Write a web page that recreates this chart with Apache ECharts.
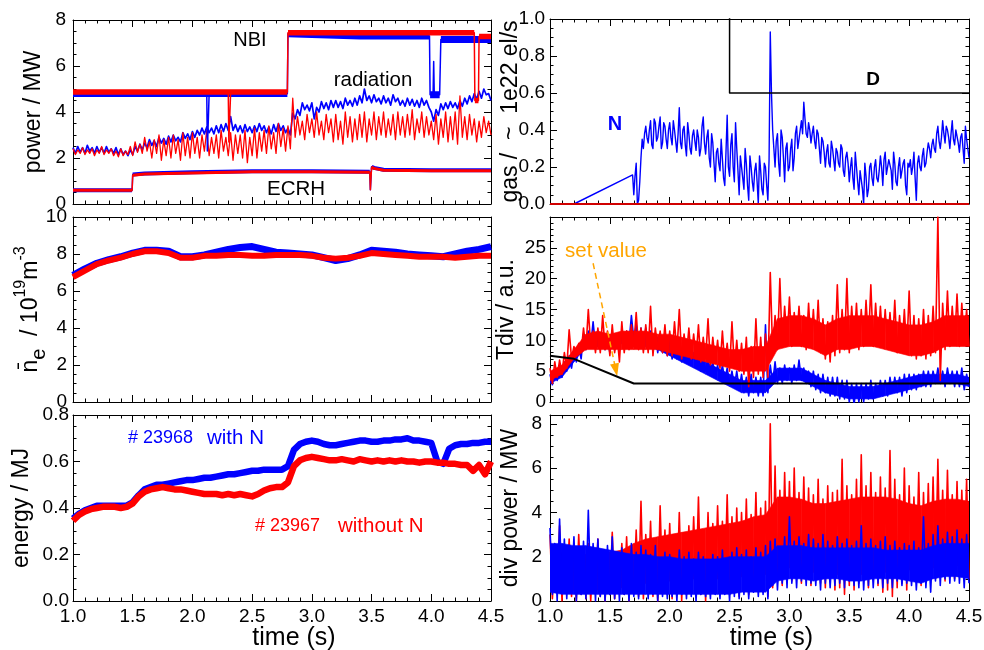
<!DOCTYPE html>
<html><head><meta charset="utf-8">
<script src="https://cdn.jsdelivr.net/npm/echarts@6/dist/echarts.min.js"></script>
<style>html,body{margin:0;padding:0;background:#fff}#c{width:984px;height:650px}</style>
</head><body><div id="c"></div>
<script>
// ---------- DATA ----------
const xTicks = [1.0, 1.5, 2.0, 2.5, 3.0, 3.5, 4.0, 4.5];
// noisy traces: hi value at t = 1.00 + 0.04k, lo value at t = 1.02 + 0.04k
const ZIG_T0 = 1.0, ZIG_DT = 0.02;
// dense cores of the noisy traces, every 0.1 s from 1.0
const CORE_T0 = 1.0, CORE_DT = 0.1;

// power panel: full paths (thin) and thick noisy plateaus (null = break)
const nbiBlueT = [1.0, 2.12, 2.125, 2.135, 2.14, 2.795, 2.80, 3.4, 3.985, 3.99, 4.015, 4.02, 4.025, 4.07, 4.08, 4.5];
const nbiBlueV = [4.8, 4.8, 2.3, 2.3, 4.8, 4.8, 7.4, 7.3, 7.3, 4.75, 4.75, 6.2, 4.75, 4.75, 7.15, 7.15];
const nbiBlueThickT = [1.0, 2.795, null, 2.80, 3.4, 3.985, null, 3.99, 4.07, null, 4.08, 4.5];
const nbiBlueThickV = [4.8, 4.8, null, 7.4, 7.3, 7.3, null, 4.75, 4.75, null, 7.15, 7.15];
const nbiRedT = [1.0, 2.30, 2.305, 2.315, 2.32, 2.795, 2.80, 4.36, 4.365, 4.395, 4.40, 4.5];
const nbiRedV = [4.87, 4.87, 2.7, 2.7, 4.87, 4.87, 7.45, 7.45, 4.5, 4.5, 7.28, 7.28];
const nbiRedThickT = [1.0, 2.795, null, 2.80, 4.36, null, 4.365, 4.395, null, 4.40, 4.5];
const nbiRedThickV = [4.87, 4.87, null, 7.45, 7.45, null, 4.5, 4.5, null, 7.28, 7.28];
const ecrhT = [1.0, 1.495, 1.50, 1.6, 2.0, 2.5, 3.0, 3.485, 3.49, 3.50, 3.52, 3.6, 4.0, 4.5];
const ecrhRedV = [0.6, 0.6, 1.25, 1.3, 1.35, 1.4, 1.4, 1.38, 0.62, 1.6, 1.55, 1.47, 1.45, 1.45];
const ecrhBlueV = [0.6, 0.6, 1.28, 1.33, 1.38, 1.42, 1.42, 1.4, 0.62, 1.62, 1.57, 1.49, 1.47, 1.47];
const ecrhThickT = [1.0, 1.495, null, 1.50, 1.6, 2.0, 2.5, 3.0, 3.485, null, 3.50, 3.52, 3.6, 4.0, 4.5];
const ecrhRedThickV = [0.6, 0.6, null, 1.25, 1.3, 1.35, 1.4, 1.4, 1.38, null, 1.6, 1.55, 1.47, 1.45, 1.45];
const ecrhBlueThickV = [0.6, 0.6, null, 1.28, 1.33, 1.38, 1.42, 1.42, 1.4, null, 1.62, 1.57, 1.49, 1.47, 1.47];
const radRedHi = [2.4,2.35,2.45,2.35,2.4, 2.35,2.5,2.35,2.4,2.3, 2.4,2.3,2.5,2.7,2.6, 2.9,2.7,2.8,3.0,2.8, 2.9,3.0,2.8,3.1,2.9, 3.1,2.9,3.0,3.2,2.9, 3.0,3.2,2.9,3.1,3.0, 3.0,3.2,2.9,3.3,3.1, 3.2,3.4,3.1,3.5,3.3, 3.4,4.6,3.8,3.6,3.9, 3.7,4.0,3.6,3.9,3.7, 3.9,3.6,4.0,3.8,3.7, 3.9,4.0,3.7,4.0,3.8, 4.0,3.7,3.9,4.0,3.8, 3.9,4.1,3.7,4.0,3.8, 3.6,3.9,3.7,4.0,3.8, 4.0,4.7,3.8,3.9,3.7, 3.6,3.8,3.6];
const radRedLo = [2.15,2.2,2.15,2.2,2.1, 2.2,2.15,2.2,2.1,2.05, 2.1,2.15,2.1,2.25,2.2, 2.3,2.0,2.2,1.9,2.1, 2.0,2.2,1.9,2.1,2.0, 2.2,2.0,2.3,2.1,2.2, 2.0,2.3,2.1,1.9,2.2, 2.0,1.8,2.1,2.0,2.3, 2.2,2.4,2.2,2.5,2.3, 2.4,2.9,3.0,2.8,3.1, 2.9,3.0,2.8,3.1,2.7, 2.8,2.6,2.9,2.7,2.8, 2.9,2.7,3.0,2.8,3.0, 2.9,3.0,2.8,3.0,2.9, 3.0,2.8,3.1,2.9,3.0, 2.8,2.6,2.9,2.7,2.8, 2.6,2.9,2.8,3.0,2.7, 2.9,3.1,3.0];
const radBlueHi = [2.45,2.5,2.45,2.55,2.45, 2.5,2.45,2.5,2.4,2.45, 2.4,2.3,2.35,2.5,2.6, 2.65,2.8,2.75,2.9,2.85, 2.95,3.0,2.9,3.1,3.05, 3.15,3.2,3.3,3.35,3.3, 3.4,3.45,3.5,3.8,3.45, 3.4,3.45,3.35,3.4,3.5, 3.4,3.35,3.45,3.5,3.4, 3.3,3.95,4.1,4.4,4.3, 4.4,4.2,4.45,4.4,4.5, 4.5,4.45,4.6,4.5,4.6, 4.7,5.0,4.7,4.75,4.6, 4.7,4.6,4.75,4.6,4.5, 4.6,4.55,4.5,4.6,4.5, 4.0,4.1,4.35,4.4,4.45, 4.4,4.5,4.6,4.7,4.8, 4.9,5.0,4.8];
const radBlueLo = [2.2,2.25,2.2,2.3,2.2, 2.25,2.2,2.25,2.2,2.15, 2.15,2.1,2.15,2.3,2.35, 2.45,2.55,2.5,2.65,2.6, 2.7,2.75,2.7,2.85,2.8, 2.9,3.0,3.05,3.1,3.05, 3.1,3.15,3.2,3.2,3.15, 3.1,3.15,3.1,3.15,3.2, 3.1,3.05,3.15,3.2,3.1, 3.0,3.7,3.85,4.1,4.05, 3.7,4.0,4.15,4.1,4.2, 4.2,4.15,4.3,4.25,4.3, 4.4,4.5,4.4,4.45,4.35, 4.4,4.3,4.45,4.3,4.25, 4.3,4.25,4.2,4.3,4.2, 3.6,3.85,4.1,4.15,4.2, 4.15,4.25,4.35,4.45,4.55, 4.6,4.75,4.5];

// density panel (every 0.1 s from 1.0)
const NE_T0 = 1.0, NE_DT = 0.1;
const neBlue = [6.85,7.2,7.5,7.7,7.85,8.05,8.2,8.2,8.15,7.85,7.85,7.95,8.1,8.25,8.35,8.4,8.25,8.1,8.05,8.0,7.95,7.8,7.65,7.75,7.95,8.2,8.15,8.1,8.0,7.95,7.9,7.85,8.0,8.15,8.25,8.4];
const neRed = [6.75,7.1,7.45,7.65,7.8,8.0,8.15,8.15,8.05,7.8,7.8,7.9,7.9,7.95,7.95,7.9,7.9,7.95,7.95,7.95,7.9,7.8,7.75,7.8,7.9,8.05,8.0,7.95,7.9,7.85,7.85,7.85,7.8,7.85,7.9,7.9];

// energy panel (every 0.05 s from 1.0)
const EN_T0 = 1.0, EN_DT = 0.05;
const energyBlue = [0.355,0.375,0.39,0.40,0.41,0.41,0.41,0.41,0.41,0.41, 0.425,0.455,0.48,0.49,0.50,0.50,0.505,0.51,0.515,0.52, 0.52,0.525,0.53,0.53,0.535,0.54,0.545,0.545,0.55,0.555, 0.56,0.56,0.565,0.565,0.565,0.565,0.58,0.65,0.675,0.685, 0.69,0.685,0.675,0.67,0.67,0.675,0.68,0.685,0.69,0.69, 0.685,0.685,0.69,0.69,0.695,0.695,0.70,0.69,0.69,0.685, 0.68,0.60,0.59,0.655,0.67,0.675,0.675,0.68,0.68,0.685, 0.685];
const energyRed = [0.345,0.37,0.385,0.395,0.40,0.405,0.405,0.405,0.40,0.405, 0.42,0.45,0.47,0.48,0.485,0.49,0.485,0.48,0.48,0.475, 0.47,0.465,0.46,0.46,0.46,0.455,0.46,0.455,0.46,0.455, 0.45,0.46,0.475,0.485,0.49,0.49,0.51,0.58,0.605,0.615, 0.62,0.615,0.61,0.605,0.605,0.61,0.605,0.60,0.61,0.605, 0.60,0.605,0.60,0.605,0.60,0.605,0.60,0.60,0.595,0.60, 0.60,0.595,0.595,0.59,0.59,0.585,0.585,0.56,0.585,0.545, 0.60];

// gas panel
const gasNRampT = [1.0, 1.2, 1.69];
const gasNRampV = [0, 0, 0.157];
const GAS_T0 = 1.70, GAS_DT = 0.02;    // gasN at 1.70 + 0.02k
const GAS2_T0 = 1.71;                  // gasN2 at 1.71 + 0.02k
const gasN = [0.05,0.22,0.02,0.25,0.30, 0.42,0.33,0.45,0.30,0.44, 0.36,0.47,0.33,0.42,0.30, 0.44,0.32,0.40,0.28,0.52, 0.30,0.42,0.26,0.38,0.27, 0.40,0.29,0.36,0.30,0.47, 0.27,0.40,0.20,0.33,0.12, 0.30,0.18,0.34,0.10,0.48, 0.15,0.38,0.12,0.30,0.05, 0.25,0.08,0.22,0.02,0.20, 0.07,0.22,0.00,0.18,0.05, 0.20,0.02,0.93,0.40,0.20, 0.38,0.15,0.36,0.12,0.33, 0.20,0.35,0.25,0.42,0.35, 0.45,0.55,0.38,0.44,0.33, 0.42,0.30,0.38,0.22,0.34, 0.20,0.32,0.20,0.30,0.18, 0.28,0.20,0.30,0.15,0.28, 0.12,0.25,0.08,0.20,0.05, 0.18,0.00,0.15,0.08,0.22, 0.10,0.24,0.12,0.26,0.10, 0.28,0.15,0.25,0.08,0.22, 0.10,0.25,0.15,0.24,0.05, 0.20,0.16,0.28,0.02,0.26, 0.18,0.30,0.22,0.33,0.25, 0.35,0.28,0.42,0.30,0.45, 0.33,0.40,0.30,0.45,0.32, 0.40,0.28,0.38,0.22,0.35, 0.25];
const gasN2 = [0.15,0.00,0.12,0.35,0.38, 0.36,0.40,0.32,0.46,0.34, 0.42,0.30,0.44,0.35,0.40, 0.36,0.45,0.34,0.38,0.33, 0.40,0.32,0.44,0.30,0.37, 0.34,0.40,0.26,0.42,0.33, 0.36,0.25,0.38,0.22,0.28, 0.22,0.35,0.14,0.28,0.20, 0.32,0.20,0.44,0.18,0.26, 0.14,0.30,0.10,0.26,0.12, 0.18,0.12,0.26,0.08,0.22, 0.10,0.24,0.60,0.30,0.34, 0.22,0.40,0.25,0.30,0.18, 0.30,0.18,0.38,0.30,0.40, 0.38,0.46,0.36,0.40,0.38, 0.34,0.40,0.30,0.36,0.28, 0.28,0.22,0.34,0.24,0.30, 0.22,0.32,0.18,0.25,0.22, 0.20,0.14,0.28,0.12,0.18, 0.08,0.22,0.04,0.20,0.14, 0.20,0.14,0.18,0.20,0.24, 0.16,0.24,0.18,0.28,0.12, 0.20,0.14,0.22,0.10,0.22, 0.24,0.20,0.14,0.22,0.20, 0.26,0.20,0.28,0.30,0.32, 0.30,0.38,0.34,0.36,0.38, 0.42,0.36,0.38,0.35,0.40, 0.33,0.36,0.30,0.42,0.30];
const gasDT = [2.5, 2.5, 4.5];
const gasDV = [1.05, 0.6, 0.6];
const gasZeroT = [1.0, 4.5];
const gasZeroV = [0, 0];

// Tdiv panel
const tdivRedHi = [5.5,6.5,6.8,8.0,11.7, 9.0,9.5,12.0,15.0,11.5, 12.0,14.0,11.5,12.5,11.0, 13.0,11.5,12.5,14.5,12.0, 12.5,15.5,12.0,11.5,12.5, 11.5,13.0,15.0,11.0,12.0, 11.0,12.5,10.5,13.5,10.5, 10.0,11.5,9.5,13.0,10.0, 9.5,10.5,9.0,13.5,10.5, 11.0,21.0,14.0,20.0,15.5, 17.0,14.5,15.5,14.0,16.0, 15.0,16.5,13.5,13.0,14.0, 19.0,15.0,20.0,15.5,16.0, 15.0,16.5,19.0,16.0,15.5, 15.0,14.5,16.5,14.0,15.0, 18.0,14.0,13.5,15.0,14.0, 15.5,30.0,16.0,18.0,15.5, 17.5,16.0,15.0];
const tdivRedLo = [3.0,4.0,4.5,5.5,7.0, 7.5,8.0,8.5,9.0,8.0, 8.0,8.5,7.5,8.0,6.5, 8.0,8.5,9.0,8.5,8.0, 8.0,7.5,8.5,8.0,7.5, 7.5,8.0,7.0,7.5,7.0, 7.0,6.5,7.0,6.0,6.5, 5.5,6.0,5.0,5.5,5.0, 4.5,2.5,4.0,4.5,4.0, 4.0,8.0,8.5,9.0,9.5, 9.0,9.5,9.0,8.5,9.0, 8.5,8.0,7.0,6.5,7.5, 8.0,8.5,8.0,9.0,8.5, 9.0,9.5,9.0,9.5,9.0, 9.0,8.5,8.0,8.5,8.0, 7.5,7.0,7.5,7.0,7.5, 8.0,3.5,8.5,9.0,9.5, 9.0,9.5,9.0];
const tdivBlueHi = [4.5,5.0,6.0,6.5,7.5, 8.0,9.0,11.0,11.5,13.0, 11.5,11.0,10.5,11.0,10.5, 11.0,11.5,14.0,12.5,12.0, 12.0,11.5,11.0,11.0,10.5, 10.0,9.5,9.5,9.0,8.5, 8.0,7.5,7.5,7.0,6.5, 6.0,6.0,5.5,5.0,5.0, 4.5,4.0,4.5,4.0,4.0, 12.5,6.0,6.5,5.5,6.0, 5.5,6.0,6.8,5.5,5.0, 5.0,4.5,4.5,4.0,4.0, 4.0,3.5,3.5,3.0,3.0, 3.0,3.0,3.5,3.0,3.5, 3.5,4.0,4.0,4.0,4.5, 4.5,4.5,4.5,5.0,5.0, 5.0,5.5,5.0,5.5,5.0, 5.0,5.5,4.5];
const tdivBlueLo = [2.8,3.5,4.0,5.0,5.5, 6.5,7.0,8.5,9.0,9.0, 9.0,8.5,8.0,8.5,8.5, 9.0,9.5,10.0,9.5,9.0, 9.0,8.5,8.0,8.0,7.5, 7.0,7.0,6.5,6.5,6.0, 5.5,5.0,5.0,4.5,4.0, 3.5,3.5,3.0,2.5,2.0, 1.5,1.0,1.5,1.0,1.0, 1.5,3.0,3.0,3.0,3.5, 3.0,3.5,3.5,3.0,2.5, 2.0,1.5,1.5,1.0,1.0, 0.5,0.5,0.0,-0.4,0.0, 0.0,0.5,0.5,1.0,1.0, 1.0,1.5,1.5,1.0,1.5, 2.0,2.0,2.5,2.5,2.5, 3.0,3.0,2.5,3.0,2.5, 2.5,2.0,2.5];
const tdivRedCoreLo = [3.5,4.5,7.0,8.5,8.5,8.5,8.5,8.5,8.5,8.5, 8.0,7.5,7.0,6.5,6.0,5.5,5.0,5.0,5.0,8.5, 9.0,9.0,8.5,7.5,8.5,8.5,9.0,9.0,8.5,8.0, 7.5,7.5,8.0,9.0,9.0,9.0];
const tdivRedCoreHi = [5.0,6.0,8.5,11.0,11.5,11.0,11.5,11.5,11.5,11.0, 11.0,10.5,10.0,9.5,9.0,8.5,8.5,9.0,9.0,13.5, 14.0,14.0,13.5,12.5,13.5,14.0,14.0,14.0,13.5,13.0, 12.5,12.5,13.0,14.0,14.0,14.0];
const tdivBlueCoreLo = [3.0,4.0,6.5,9.0,9.0,9.0,9.5,9.5,9.0,8.5, 7.5,6.5,5.5,4.5,3.5,2.5,1.5,1.5,1.5,3.5, 3.5,3.5,2.5,1.5,1.0,0.5,0.5,0.5,1.0,1.5, 2.0,2.5,3.0,3.0,3.0,2.5];
const tdivBlueCoreHi = [4.5,5.5,8.0,10.5,11.0,10.5,11.0,11.5,11.0,10.5, 9.5,8.5,7.5,6.5,5.5,4.5,3.5,3.5,3.5,5.5, 5.5,5.5,4.5,3.5,3.0,2.5,2.5,2.5,3.0,3.5, 4.0,4.5,4.5,4.5,4.5,4.0];
const setValueT = [1.0, 1.2, 1.7, 4.5];
const setValueV = [7.5, 7.0, 3.0, 3.0];
const arrowFrom = [1.36, 22.5];
const arrowTo = [1.55, 5.2];

// divertor power panel
const divRedHi = [3.0,2.2,3.4,2.0,2.8, 2.5,3.0,2.2,2.6,2.0, 2.8,2.3,2.0,3.1,2.2, 2.6,2.9,2.4,3.2,4.5, 3.0,3.6,2.8,4.3,3.2, 3.5,2.9,4.0,3.0,3.4, 3.8,4.7,3.2,4.0,3.5, 4.3,3.6,4.8,3.8,4.2, 4.0,4.6,3.9,4.9,4.2, 4.5,8.0,6.1,5.0,5.8, 5.4,6.0,4.9,5.6,5.1, 4.8,5.5,4.6,5.2,4.9, 5.0,6.4,5.2,4.8,5.5, 6.6,5.2,5.8,4.9,5.6, 5.1,6.8,5.5,4.8,6.0, 5.2,4.7,5.8,4.9,5.3, 5.6,6.4,5.0,5.9,4.8, 5.4,5.0,5.5];
const divRedLo = [0.1,0.4,0.0,0.5,0.2, 0.0,0.3,0.1,0.0,0.4, 0.2,0.0,0.3,0.1,0.4, 0.3,0.0,0.5,0.2,0.1, 0.4,0.2,0.0,0.5,0.3, 0.1,0.4,0.0,0.3,0.5, 0.6,0.3,0.0,0.5,0.4, 0.4,0.7,0.3,0.5,0.2, 0.6,0.3,0.8,0.5,0.4, 0.2,0.6,1.0,0.7,1.1, 0.9,1.2,0.8,1.0,0.7, 1.0,0.8,0.6,0.9,0.5, 0.6,0.3,0.7,0.5,0.8, 0.9,0.6,1.0,0.7,0.4, 0.5,0.2,0.6,0.8,0.5, 0.9,1.1,0.7,1.0,1.2, 1.0,1.3,0.9,1.2,1.0, 1.1,1.3,1.0];
const divBlueHi = [3.3,2.6,3.7,2.8,2.5, 2.9,2.4,2.7,4.1,2.6, 2.8,2.3,2.5,2.9,2.2, 2.4,2.0,2.6,2.2,2.5, 2.3,2.1,2.5,1.9,2.2, 2.1,1.8,2.3,2.0,2.2, 1.9,2.2,2.0,1.8,2.1, 2.0,2.3,1.9,2.2,2.4, 2.1,2.3,2.0,2.4,2.2, 2.5,2.7,2.8,2.4,2.9, 3.8,2.7,2.9,2.6,3.0, 2.8,2.6,3.0,2.7,2.5, 2.9,2.6,2.8,2.5,2.7, 3.4,2.6,2.8,2.5,2.7, 2.9,2.5,2.7,2.4,2.6, 2.5,2.7,2.4,3.8,2.6, 3.0,3.4,2.8,3.1,2.9, 3.2,2.8,3.0];
const divBlueLo = [0.3,0.0,0.5,0.1,0.4, 0.0,0.3,0.1,0.4,0.0, 0.2,0.0,0.3,0.1,0.0, 0.3,0.0,0.2,0.1,0.4, 0.1,0.3,0.0,0.2,0.1, 0.2,0.0,0.3,0.1,0.2, 0.0,0.3,0.2,0.1,0.3, 0.1,0.3,0.0,0.2,0.1, 0.3,0.1,0.4,0.2,0.3, 0.1,0.7,0.5,0.8,0.6, 0.8,0.6,0.9,0.7,0.8, 0.7,0.5,0.8,0.6,0.7, 0.8,0.6,0.9,0.7,0.6, 0.5,0.7,0.6,0.8,0.6, 0.8,0.6,0.9,0.7,0.8, 0.7,0.5,0.8,0.6,0.4, 0.9,0.7,1.0,0.8,0.9, 0.8,0.6,0.8];
const divRedCoreLo = [0.5,0.5,0.5,0.5,0.5,0.6,0.6,0.7,0.8,0.8, 0.9,0.9,1.0,1.0,1.0,1.1,1.1,1.2,1.2,1.5, 1.5,1.4,1.3,1.3,1.2,1.2,1.2,1.2,1.3,1.2, 1.4,1.5,1.5,1.5,1.6,1.6];
const divRedCoreHi = [2.2,2.2,2.2,2.1,2.1,2.2,2.3,2.6,2.8,2.9, 3.0,3.1,3.2,3.3,3.4,3.5,3.6,3.8,3.9,4.7, 4.7,4.6,4.4,4.4,4.5,4.6,4.7,4.7,4.7,4.6, 4.4,4.3,4.5,4.6,4.6,4.5];
const divBlueCoreLo = [0.4,0.3,0.3,0.3,0.3,0.3,0.3,0.3,0.3,0.3, 0.3,0.3,0.3,0.3,0.3,0.3,0.4,0.4,0.4,0.9, 1.0,1.0,0.9,1.0,1.0,0.9,0.9,1.0,1.0,1.0, 0.9,0.8,1.0,1.1,1.1,1.0];
const divBlueCoreHi = [2.6,2.6,2.5,2.5,2.4,2.3,2.2,2.1,2.1,2.0, 2.0,1.9,1.9,1.9,1.9,2.0,2.0,2.0,2.0,2.5, 2.5,2.5,2.4,2.4,2.4,2.4,2.4,2.4,2.3,2.3, 2.3,2.3,2.5,2.6,2.6,2.6];

// ---------- CHART ----------
const BLUE = '#0000ff', RED = '#ff0000', BLACK = '#000000', ORANGE = '#ffa500';
const FONT = '"Liberation Sans", Arial, Helvetica, sans-serif';

function pairs(ts, vs) { return ts.map((t, i) => (t === null || vs[i] === null) ? ['-', '-'] : [t, vs[i]]); }
function regular(vs, t0, dt) { return vs.map((v, i) => [+(t0 + i * dt).toFixed(4), v]); }
function zig(hi, lo, t0, dt) {
  const out = [];
  for (let k = 0; k < hi.length; k++) {
    out.push([+(t0 + 2 * k * dt).toFixed(4), hi[k]]);
    if (k < lo.length) out.push([+(t0 + (2 * k + 1) * dt).toFixed(4), lo[k]]);
  }
  return out;
}

const grids = [
  { left: 73, top: 20, width: 418, height: 184 },
  { left: 73, top: 217, width: 418, height: 185 },
  { left: 73, top: 415, width: 418, height: 186 },
  { left: 550, top: 19, width: 419, height: 185 },
  { left: 550, top: 217, width: 419, height: 185 },
  { left: 550, top: 415, width: 419, height: 186 }
].map(g => Object.assign({ containLabel: false, outerBoundsMode: 'none' }, g));

const NE_NAME = '{n|n\u0304}{s|e}{t|  / 10}{p|19}{t|m}{p|-3}';
const yCfg = [
  { min: 0, max: 8, interval: 2, minor: 4, dec: 0, name: 'power / MW', gap: 28, margin: 7 },
  { min: 0, max: 10, interval: 2, minor: 4, dec: 0, name: NE_NAME, gap: 24, margin: 6 },
  { min: 0, max: 0.8, interval: 0.2, minor: 4, dec: 1, name: 'energy / MJ', gap: 40, margin: 4 },
  { min: 0, max: 1, interval: 0.2, minor: 4, dec: 1, name: 'gas /  ~  1e22 el/s', gap: 28, margin: 5 },
  { min: 0, max: 30, interval: 5, minor: 5, dec: 0, name: 'Tdiv / a.u.', gap: 32, margin: 4, hideMax: true },
  { min: 0, max: 8.4, interval: 2, minor: 4, dec: 0, name: 'div power / MW', gap: 28, margin: 8, hideMax: true }
];

const axisLine = { show: true, onZero: false, lineStyle: { color: BLACK, width: 1 } };
const xAxes = [], yAxes = [];
grids.forEach((g, i) => {
  const bottomRow = (i === 2 || i === 5);
  [['bottom', bottomRow], ['top', false]].forEach(([pos, lab]) => {
    xAxes.push({
      type: 'value', gridIndex: i, position: pos,
      min: xTicks[0], max: xTicks[xTicks.length - 1], interval: xTicks[1] - xTicks[0],
      axisLine, splitLine: { show: false },
      axisTick: { show: true, inside: true, length: 7, lineStyle: { color: BLACK } },
      minorTick: { show: true, splitNumber: 5, length: 3.5, lineStyle: { color: BLACK } },
      axisLabel: { show: lab, color: BLACK, fontSize: 19, fontFamily: FONT, margin: 6, formatter: v => v.toFixed(1) },
      name: lab ? 'time (s)' : '', nameLocation: 'middle', nameGap: 25, nameMoveOverlap: false,
      nameTextStyle: { color: BLACK, fontSize: 25, fontFamily: FONT, padding: [0, 0, 0, 24] }
    });
  });
  const c = yCfg[i];
  [['left', true], ['right', false]].forEach(([pos, lab]) => {
    yAxes.push({
      type: 'value', gridIndex: i, position: pos, min: c.min, max: c.max, interval: c.interval,
      axisLine, splitLine: { show: false },
      axisTick: { show: true, inside: true, length: 7, lineStyle: { color: BLACK } },
      minorTick: { show: true, splitNumber: c.minor, length: 3.5, lineStyle: { color: BLACK } },
      axisLabel: { show: lab, color: BLACK, fontSize: 19, fontFamily: FONT, margin: c.margin,
        showMaxLabel: c.hideMax ? false : true, showMinLabel: true, formatter: v => v.toFixed(c.dec) },
      name: lab ? c.name : '', nameLocation: 'middle', nameGap: c.gap, nameMoveOverlap: false,
      nameTextStyle: {
        color: BLACK, fontSize: 23, fontFamily: FONT,
        rich: {
          n: { fontSize: 23, fontFamily: FONT, color: BLACK, lineHeight: 36, verticalAlign: 'middle' },
          t: { fontSize: 23, fontFamily: FONT, color: BLACK, lineHeight: 36, verticalAlign: 'middle' },
          s: { fontSize: 20, fontFamily: FONT, color: BLACK, lineHeight: 22, verticalAlign: 'bottom' },
          p: { fontSize: 16, fontFamily: FONT, color: BLACK, lineHeight: 18, verticalAlign: 'top' }
        }
      }
    });
  });
});

function line(g, data, color, width, z, extra) {
  return Object.assign({
    type: 'line', xAxisIndex: 2 * g, yAxisIndex: 2 * g, data, connectNulls: false,
    showSymbol: false, symbol: 'none', silent: true, animation: false, clip: true,
    lineStyle: { color, width, join: 'round' }, itemStyle: { color }, z: z || 2
  }, extra || {});
}

// filled band between two typed envelopes (dense core of a noisy trace)
function band(g, lo, hi, t0, dt, color, z) {
  const pts = lo.map((v, i) => [+(t0 + i * dt).toFixed(4), v, hi[i]]);
  return {
    type: 'custom', xAxisIndex: 2 * g, yAxisIndex: 2 * g, silent: true, animation: false, z,
    clip: true, data: pts, encode: { x: 0, y: [1, 2] },
    renderItem(params, api) {
      const i = params.dataIndex;
      if (i >= pts.length - 1) return null;
      const a = pts[i], b = pts[i + 1];
      const points = [api.coord([a[0], a[1]]), api.coord([a[0], a[2]]), api.coord([b[0], b[2]]), api.coord([b[0], b[1]])];
      return { type: 'polygon', shape: { points }, style: { fill: color, stroke: color, lineWidth: 0.6 } };
    }
  };
}

// merge two interleaved regular samplings of one signal into a single time-ordered path
function merged(a, t0a, b, t0b, dt) {
  return regular(a, t0a, dt).concat(regular(b, t0b, dt)).sort((p, q) => p[0] - q[0]);
}

const series = [
  // power
  line(0, zig(radBlueHi, radBlueLo, ZIG_T0, ZIG_DT), BLUE, 1.7, 2),
  line(0, zig(radRedHi, radRedLo, ZIG_T0, ZIG_DT), RED, 1.3, 3),
  line(0, pairs(nbiBlueT, nbiBlueV), BLUE, 1.5, 4),
  line(0, pairs(nbiBlueThickT, nbiBlueThickV), BLUE, 7, 4),
  line(0, pairs(nbiRedT, nbiRedV), RED, 1.5, 5),
  line(0, pairs(nbiRedThickT, nbiRedThickV), RED, 5.5, 5),
  line(0, pairs(ecrhT, ecrhBlueV), BLUE, 1.5, 4),
  line(0, pairs(ecrhThickT, ecrhBlueThickV), BLUE, 4, 4),
  line(0, pairs(ecrhT, ecrhRedV), RED, 1.5, 5),
  line(0, pairs(ecrhThickT, ecrhRedThickV), RED, 3, 5),
  // density
  line(1, regular(neBlue, NE_T0, NE_DT), BLUE, 7, 2),
  line(1, regular(neRed, NE_T0, NE_DT), RED, 6, 3),
  // energy
  line(2, regular(energyBlue, EN_T0, EN_DT), BLUE, 6.5, 2),
  line(2, regular(energyRed, EN_T0, EN_DT), RED, 6.5, 3),
  // gas
  line(3, pairs(gasNRampT, gasNRampV).concat(merged(gasN, GAS_T0, gasN2, GAS2_T0, GAS_DT)), BLUE, 1.4, 2),
  line(3, pairs(gasDT, gasDV), BLACK, 1.5, 3),
  line(3, pairs(gasZeroT, gasZeroV), '#d00000', 2, 4),
  // Tdiv
  band(4, tdivBlueCoreLo, tdivBlueCoreHi, CORE_T0, CORE_DT, BLUE, 2),
  line(4, zig(tdivBlueHi, tdivBlueLo, ZIG_T0, ZIG_DT), BLUE, 1.6, 2),
  band(4, tdivRedCoreLo, tdivRedCoreHi, CORE_T0, CORE_DT, RED, 3),
  line(4, zig(tdivRedHi, tdivRedLo, ZIG_T0, ZIG_DT), RED, 1.6, 3),
  line(4, pairs(setValueT, setValueV), BLACK, 2, 5, {
    markLine: {
      silent: true, animation: false, symbol: ['none', 'triangle'], symbolSize: [9, 13],
      label: { show: false },
      lineStyle: { color: ORANGE, type: [6, 4], width: 1.5 },
      data: [[{ coord: arrowFrom }, { coord: arrowTo }]]
    }
  }),
  // divertor power
  band(5, divRedCoreLo, divRedCoreHi, CORE_T0, CORE_DT, RED, 2),
  line(5, zig(divRedHi, divRedLo, ZIG_T0, ZIG_DT), RED, 1.6, 2),
  band(5, divBlueCoreLo, divBlueCoreHi, CORE_T0, CORE_DT, BLUE, 3),
  line(5, zig(divBlueHi, divBlueLo, ZIG_T0, ZIG_DT), BLUE, 1.6, 3)
];

function txt(x, y, text, color, size, opts) {
  return {
    type: 'text', x, y, z: 100, silent: true,
    style: Object.assign({ text, fill: color, fontSize: size, fontFamily: FONT, align: 'center', verticalAlign: 'middle' }, (opts || {}))
  };
}

const graphic = [
  txt(250, 40, 'NBI', BLACK, 20),
  txt(373, 80, 'radiation', BLACK, 20.5),
  txt(296, 189, 'ECRH', BLACK, 20.5),
  txt(615, 124, 'N', BLUE, 20, { fontWeight: 'bold' }),
  txt(873, 80, 'D', BLACK, 19, { fontWeight: 'bold' }),
  txt(606, 251, 'set value', ORANGE, 20.5),
  txt(128, 438, '# 23968', BLUE, 18, { align: 'left' }),
  txt(207, 438, 'with N', BLUE, 20.5, { align: 'left' }),
  txt(255, 526, '# 23967', RED, 18, { align: 'left' }),
  txt(338, 526, 'without N', RED, 20.5, { align: 'left' })
];

const chart = echarts.init(document.getElementById('c'), null, { renderer: 'canvas' });
chart.setOption({
  backgroundColor: '#ffffff',
  animation: false,
  grid: grids,
  xAxis: xAxes,
  yAxis: yAxes,
  series,
  graphic
});
</script></body></html>
